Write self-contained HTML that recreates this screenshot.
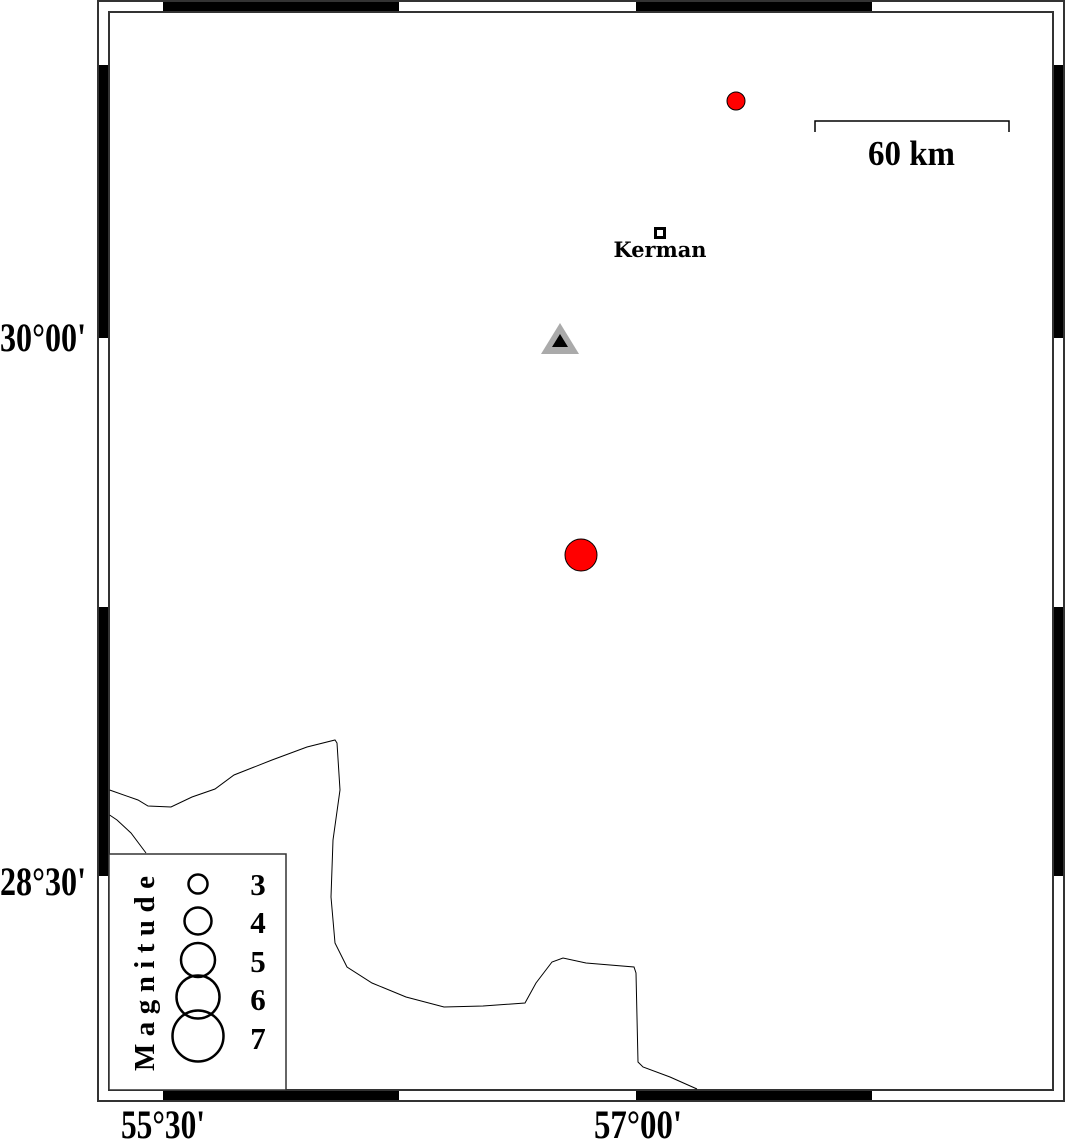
<!DOCTYPE html>
<html><head><meta charset="utf-8"><style>html,body{margin:0;padding:0;background:#fff}svg{display:block}</style></head>
<body>
<svg width="1066" height="1139" viewBox="0 0 1066 1139" xmlns="http://www.w3.org/2000/svg" font-family="'Liberation Serif', serif" font-weight="bold">
<rect width="1066" height="1139" fill="#fff"/>
<g fill="#000">
<rect x="163" y="1" width="236" height="11"/><rect x="636" y="1" width="236" height="11"/>
<rect x="163" y="1090" width="236" height="11"/><rect x="636" y="1090" width="236" height="11"/>
<rect x="98" y="65" width="11" height="273"/><rect x="98" y="607" width="11" height="269"/>
<rect x="1053" y="65" width="11" height="273"/><rect x="1053" y="607" width="11" height="269"/>
</g>
<rect x="98" y="1" width="966" height="1100" fill="none" stroke="#333" stroke-width="2"/>
<rect x="109" y="12" width="944" height="1078" fill="none" stroke="#333" stroke-width="2"/>
<polyline fill="none" stroke="#000" stroke-width="1" points="109.6,790 138,800 148,806 171,807 192,797 215,789 234,775 272,760 307,747 335,740 337,743 340,790 333,840 331,897 335,943 347,967 372,983 406,997 444,1007 483,1006 525,1003 536,983 552,962 563,958 586,963 634,967 636,973 638,1062 643,1067 670,1077 697,1089"/>
<polyline fill="none" stroke="#000" stroke-width="1" points="109.6,815 117,820 131,833 146,853"/>
<rect x="109" y="854" width="177" height="236" fill="#fff" stroke="#333" stroke-width="1.5"/>
<g fill="none" stroke="#000" stroke-width="2.5">
<circle cx="198" cy="884" r="9.5"/><circle cx="198" cy="921" r="13.5"/><circle cx="198" cy="960" r="17"/><circle cx="198" cy="997" r="21.5"/><circle cx="198" cy="1036" r="25.5"/>
</g>
<g font-size="31" text-anchor="middle">
<text x="258" y="895">3</text><text x="258" y="933">4</text><text x="258" y="972">5</text><text x="258" y="1010">6</text><text x="258" y="1049">7</text>
</g>
<text transform="translate(154,1071) rotate(-90)" font-size="29" textLength="195" lengthAdjust="spacing">Magnitude</text>
<circle cx="736" cy="101" r="9" fill="#f00" stroke="#000" stroke-width="1"/>
<circle cx="581" cy="555" r="16" fill="#f00" stroke="#000" stroke-width="1"/>
<polygon points="560,323 579,354 541,354" fill="#aaa"/>
<polygon points="560,334 568,347 552,347" fill="#000"/>
<rect x="655.5" y="228.5" width="9" height="9" fill="#fff" stroke="#000" stroke-width="3"/>
<text x="660" y="257" font-family="'DejaVu Serif', serif" font-size="21" text-anchor="middle" textLength="93" lengthAdjust="spacingAndGlyphs">Kerman</text>
<polyline points="815,132 815,121 1009,121 1009,132" fill="none" stroke="#000" stroke-width="1.5"/>
<text x="868" y="165" font-size="35" textLength="87" lengthAdjust="spacingAndGlyphs">60 km</text>
<g font-size="40">
<text x="0" y="351" textLength="86" lengthAdjust="spacingAndGlyphs">30°00'</text>
<text x="0" y="895" textLength="86" lengthAdjust="spacingAndGlyphs">28°30'</text>
<text x="121" y="1138" textLength="84" lengthAdjust="spacingAndGlyphs">55°30'</text>
<text x="594" y="1138" textLength="88" lengthAdjust="spacingAndGlyphs">57°00'</text>
</g>
</svg>
</body></html>
